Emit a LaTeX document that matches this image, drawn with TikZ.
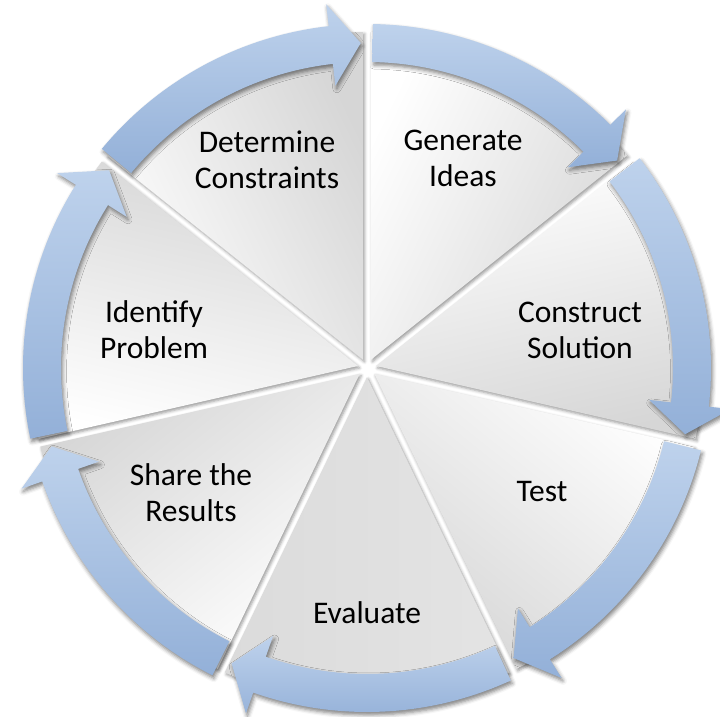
\documentclass[tikz,border=0pt]{standalone}
\usepackage{fontspec}
\setmainfont{Carlito}
\usetikzlibrary{shadows.blur}
\definecolor{arrowlight}{HTML}{BED2EC}
\definecolor{arrowdark}{HTML}{93B0D8}
\definecolor{wedgeshade}{HTML}{D6D6D6}
\definecolor{wedgemid}{HTML}{F8F8F8}
\definecolor{evallight}{HTML}{E4E4E4}
\definecolor{evalmid}{HTML}{E2E2E2}
\definecolor{evaldark}{HTML}{DBDBDB}
\begin{document}
\begin{tikzpicture}[x=1bp,y=1bp,
  wedge/.style={draw=none,
    blur shadow={shadow xshift=1.5bp, shadow yshift=-2bp, shadow blur radius=3bp, shadow opacity=40}},
  cyclearrow/.style={draw=none, top color=arrowlight, bottom color=arrowdark,
    blur shadow={shadow xshift=1.5bp, shadow yshift=-3bp, shadow blur radius=4bp, shadow opacity=50}},
  segtext/.style={font=\fontsize{31.5bp}{36bp}\selectfont, align=center, text=black, inner sep=0pt}
]
\useasboundingbox (0,0) rectangle (720,717);
\coordinate (c) at (367,349);

% pie segments, each inset a little so that white gaps separate them
\foreach \k/\lite/\mid/\dark in {0/white/wedgemid/wedgeshade,1/white/wedgemid/wedgeshade,
    2/white/wedgemid/wedgeshade,3/evallight/evalmid/evaldark,4/white/wedgemid/wedgeshade,
    5/white/wedgemid/wedgeshade,6/white/wedgemid/wedgeshade}{
  \pgfmathsetmacro\s{90-51.4286*\k}
  \pgfmathsetmacro\e{\s-51.4286}
  \pgfmathsetmacro\b{\s-25.7143}
  \pgfmathsetmacro\sa{\s-0.67}
  \pgfmathsetmacro\ea{\e+0.67}
  \path[wedge, shift={(c)}, top color=\lite, middle color=\mid, bottom color=\dark, shading angle=\b]
    (\b:9.2) -- (\sa:336) arc[start angle=\sa, end angle=\ea, radius=336] -- cycle;
}

% curved block arrows running clockwise round the rim
\foreach \k in {0,...,6}{
  \pgfmathsetmacro\s{90-51.4286*\k}
  \pgfmathsetmacro\e{\s-51.4286}
  \pgfmathsetmacro\st{\s-1.0}
  \pgfmathsetmacro\hb{\e+6.4}
  \pgfmathsetmacro\tp{\e+1.1}
  \path[cyclearrow, shift={(c)}]
    (\st:344) arc[start angle=\st, end angle=\hb, radius=344]
    -- (\hb:366) -- (\tp:325) -- (\hb:284) -- (\hb:306)
    arc[start angle=\hb, end angle=\st, radius=306] -- cycle;
}

\node[segtext] (generate)  at (463,559) {Generate\\Ideas};
\node[segtext] (construct) at (580,387) {Construct\\Solution};
\node[segtext] (test)      at (542,225) {Test};
\node[segtext] (evaluate)  at (367,104) {Evaluate};
\node[segtext] (share)     at (191,224) {Share the\\Results};
\node[segtext] (identify)  at (154,387) {Identify\\Problem};
\node[segtext] (determine) at (267,557) {Determine\\Constraints};
\end{tikzpicture}
\end{document}
